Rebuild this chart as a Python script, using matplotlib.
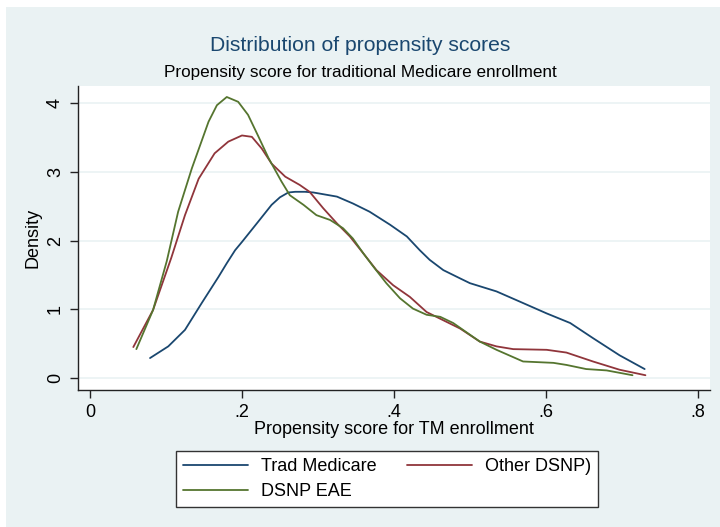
import matplotlib
matplotlib.use("Agg")
import matplotlib.pyplot as plt
from matplotlib.patches import Rectangle

# ---- data ----
trad_x = [0.079, 0.103, 0.125, 0.147, 0.169, 0.180, 0.191, 0.200, 0.221, 0.239, 0.250,
          0.261, 0.270, 0.283, 0.294, 0.325, 0.346, 0.368, 0.395, 0.417, 0.434, 0.447,
          0.465, 0.487, 0.500, 0.535, 0.566, 0.601, 0.632, 0.662, 0.697, 0.730]
trad_y = [0.29, 0.46, 0.70, 1.09, 1.47, 1.67, 1.86, 1.98, 2.27, 2.52, 2.63,
          2.70, 2.71, 2.71, 2.70, 2.64, 2.54, 2.42, 2.23, 2.06, 1.86, 1.72,
          1.57, 1.45, 1.38, 1.26, 1.11, 0.94, 0.80, 0.58, 0.33, 0.13]

other_x = [0.057, 0.083, 0.107, 0.125, 0.143, 0.164, 0.182, 0.200, 0.213, 0.226, 0.239,
           0.257, 0.276, 0.289, 0.307, 0.325, 0.342, 0.360, 0.377, 0.399, 0.421, 0.443,
           0.465, 0.487, 0.513, 0.535, 0.557, 0.601, 0.627, 0.662, 0.697, 0.731]
other_y = [0.45, 0.99, 1.75, 2.37, 2.90, 3.27, 3.44, 3.53, 3.51, 3.34, 3.12,
           2.93, 2.81, 2.71, 2.47, 2.25, 2.06, 1.81, 1.57, 1.35, 1.18, 0.96,
           0.84, 0.72, 0.53, 0.46, 0.42, 0.41, 0.37, 0.24, 0.12, 0.04]

eae_x = [0.061, 0.083, 0.101, 0.116, 0.134, 0.156, 0.167, 0.180, 0.195, 0.208, 0.221,
         0.235, 0.252, 0.263, 0.281, 0.298, 0.316, 0.333, 0.346, 0.360, 0.373, 0.390,
         0.408, 0.425, 0.443, 0.461, 0.478, 0.513, 0.535, 0.570, 0.610, 0.627, 0.653,
         0.680, 0.714]
eae_y = [0.42, 0.99, 1.70, 2.42, 3.05, 3.73, 3.97, 4.09, 4.02, 3.83, 3.53,
         3.20, 2.86, 2.66, 2.52, 2.37, 2.30, 2.18, 2.03, 1.81, 1.62, 1.38,
         1.16, 1.01, 0.92, 0.89, 0.80, 0.53, 0.41, 0.24, 0.22, 0.19, 0.13,
         0.11, 0.04]

series_labels = ["Trad Medicare", "Other DSNP)", "DSNP EAE"]
x_ticks = [0, 0.2, 0.4, 0.6, 0.8]
x_ticklabels = ["0", ".2", ".4", ".6", ".8"]
y_ticks = [0, 1, 2, 3, 4]
y_ticklabels = ["0", "1", "2", "3", "4"]

# ---- style ----
BG = "#eaf2f3"
NAVY = "#1a476f"
MAROON = "#90353b"
GREEN = "#55752f"
plt.rcParams["font.family"] = ["Liberation Sans", "DejaVu Sans"]

W, H = 720, 527
fig = plt.figure(figsize=(W / 100, H / 100), dpi=100)
fig.patch.set_facecolor("white")
fig.patches.append(Rectangle((6 / W, 0), 1 - 6 / W, 1 - 7 / H, transform=fig.transFigure,
                             facecolor=BG, edgecolor="none", zorder=-10))

ax = fig.add_axes([78 / W, 1 - 390 / H, (710 - 78) / W, (390 - 86) / H])
ax.set_facecolor("white")

line_kw = dict(lw=1.3, solid_joinstyle="round", solid_capstyle="round")
ax.plot(trad_x, trad_y, color=NAVY, label=series_labels[0], **line_kw)
ax.plot(other_x, other_y, color=MAROON, label=series_labels[1], **line_kw)
ax.plot(eae_x, eae_y, color=GREEN, label=series_labels[2], **line_kw)

ax.set_xlim(-0.0158, 0.816)
ax.set_ylim(-0.175, 4.25)
ax.set_xticks(x_ticks)
ax.set_xticklabels(x_ticklabels)
ax.set_yticks(y_ticks)
ax.set_yticklabels(y_ticklabels, rotation=90, va="center")
ax.tick_params(axis="both", direction="out", length=6, width=1, colors="#222222",
               labelsize=13, labelcolor="black", pad=4)
ax.grid(axis="y", color=BG, lw=1.2)
ax.set_axisbelow(True)
for s in ["top", "right"]:
    ax.spines[s].set_visible(False)
for s in ["left", "bottom"]:
    ax.spines[s].set_color("#222222")
    ax.spines[s].set_linewidth(1)

ax.set_xlabel("Propensity score for TM enrollment", fontsize=13, labelpad=0)
ax.set_ylabel("Density", fontsize=13, labelpad=4)

fig.text(0.5, 1 - 45 / H, "Distribution of propensity scores",
         ha="center", va="center", fontsize=15.2, color=NAVY)
fig.text(0.5, 1 - 72 / H, "Propensity score for traditional Medicare enrollment",
         ha="center", va="center", fontsize=12.3, color="black")

# legend: row order Trad, Other / EAE
handles, labels = ax.get_legend_handles_labels()
order = [0, 2, 1]
leg = fig.legend([handles[i] for i in order], [labels[i] for i in order],
                 loc="center", bbox_to_anchor=((177 + 597) / 2 / W, 1 - 479 / H),
                 ncol=2, fontsize=13, frameon=True, fancybox=False,
                 edgecolor="#333333", facecolor="white", framealpha=1,
                 handlelength=3.6, columnspacing=1.7, handletextpad=0.7,
                 labelspacing=0.45, borderpad=0.4, borderaxespad=0)
leg.get_frame().set_linewidth(1)

fig.savefig("out.png", dpi=100, facecolor=fig.get_facecolor())
